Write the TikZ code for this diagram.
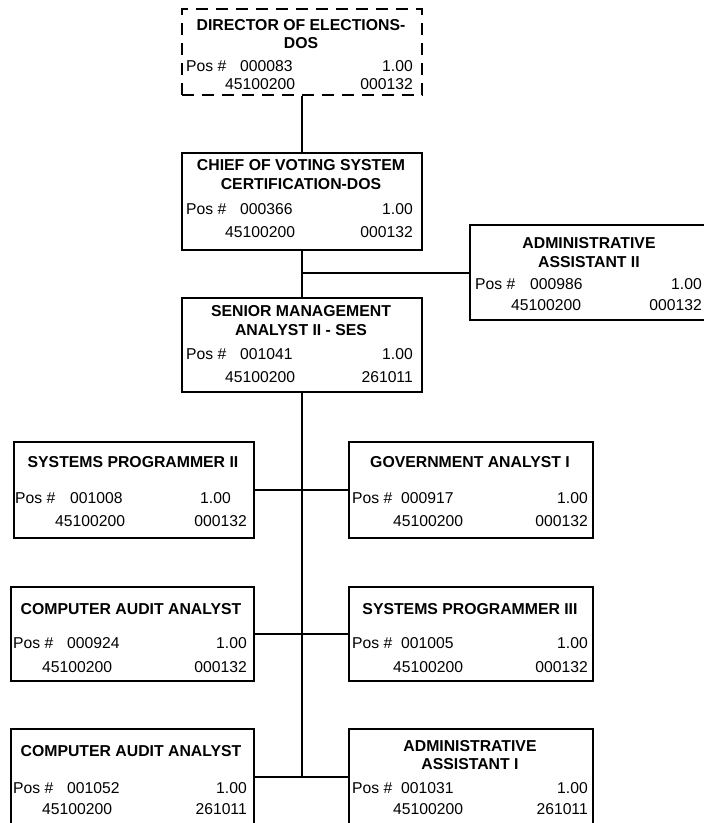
\documentclass[tikz,border=0pt]{standalone}
\usepackage{fontspec}
\setmainfont{Liberation Sans}
\begin{document}
\begin{tikzpicture}[x=1pt,y=-1pt]
\tikzset{
  box/.style={draw, line width=2pt, rectangle, anchor=north west, inner sep=0pt},
  dbox/.style={box, dash pattern=on 12pt off 8pt},
  ttl/.style={font=\bfseries\fontsize{15.8}{19}\selectfont, anchor=base, inner sep=0pt},
  lt/.style={font=\fontsize{15.7}{19}\selectfont, anchor=base west, inner sep=0pt},
  rt/.style={font=\fontsize{15.7}{19}\selectfont, anchor=base east, inner sep=0pt},
  link/.style={line width=2pt},
}
\useasboundingbox (0,0) rectangle (704,823);
\clip (0,0) rectangle (704,823);

% ---------- boxes ----------
\node[dbox, minimum width=240pt, minimum height=86pt] (dir)    at (181,8)   {};
\node[box,  minimum width=240pt, minimum height=97pt] (chief)  at (181,152) {};
\node[box,  minimum width=240pt, minimum height=95pt] (admtwo) at (469,224) {};
\node[box,  minimum width=240pt, minimum height=94pt] (senior) at (181,297) {};
\node[box,  minimum width=240pt, minimum height=96pt] (rAl)    at (13,441)  {};
\node[box,  minimum width=244pt, minimum height=96pt] (rAr)    at (348,441) {};
\node[box,  minimum width=243pt, minimum height=94pt] (rBl)    at (10,586)  {};
\node[box,  minimum width=244pt, minimum height=94pt] (rBr)    at (348,586) {};
\node[box,  minimum width=243pt, minimum height=95pt] (rCl)    at (10,728)  {};
\node[box,  minimum width=244pt, minimum height=95pt] (rCr)    at (348,728) {};

% ---------- connectors ----------
\draw[link] (dir.south) -- (chief.north);
\draw[link] (chief.south) -- (senior.north);
\coordinate (jadm) at (chief.south |- admtwo.west);
\draw[link] (jadm) -- (admtwo.west);
\coordinate (jend) at (senior.south |- rCl.east);
\draw[link] (senior.south) -- (jend);
\draw[link] (rAl.east) -- (rAr.west);
\draw[link] (rBl.east) -- (rBr.west);
\draw[link] (rCl.east) -- (rCr.west);

% ---------- Director of Elections ----------
\node[ttl] (dirA) at (301,30) {DIRECTOR OF ELECTIONS-};
\node[ttl] (dirB) at (301,48) {DOS};
\node[lt] (dirP) at (186,71) {Pos \#};
\node[lt] (dirN) at (240,71) {000083};
\node[rt] (dirF) at (413,71) {1.00};
\node[lt] (dirC) at (225,89) {45100200};
\node[rt] (dirK) at (413,89) {000132};

% ---------- Chief ----------
\node[ttl] (chA) at (301,170) {CHIEF OF VOTING SYSTEM};
\node[ttl] (chB) at (301,189) {CERTIFICATION-DOS};
\node[lt] (chP) at (186,214) {Pos \#};
\node[lt] (chN) at (240,214) {000366};
\node[rt] (chF) at (413,214) {1.00};
\node[lt] (chC) at (225,237) {45100200};
\node[rt] (chK) at (413,237) {000132};

% ---------- Administrative Assistant II ----------
\node[ttl] (adA) at (589,248) {ADMINISTRATIVE};
\node[ttl] (adB) at (589,267) {ASSISTANT II};
\node[lt] (adP) at (475,289) {Pos \#};
\node[lt] (adN) at (530,289) {000986};
\node[rt] (adF) at (702,289) {1.00};
\node[lt] (adC) at (511,310) {45100200};
\node[rt] (adK) at (702,310) {000132};

% ---------- Senior Management Analyst ----------
\node[ttl] (seA) at (301,316) {SENIOR MANAGEMENT};
\node[ttl] (seB) at (301,335) {ANALYST II - SES};
\node[lt] (seP) at (186,359) {Pos \#};
\node[lt] (seN) at (240,359) {001041};
\node[rt] (seF) at (413,359) {1.00};
\node[lt] (seC) at (225,382) {45100200};
\node[rt] (seK) at (413,382) {261011};

% ---------- Systems Programmer II ----------
\node[ttl] (alA) at (133,467) {SYSTEMS PROGRAMMER II};
\node[lt] (alP) at (15,503) {Pos \#};
\node[lt] (alN) at (70,503) {001008};
\node[rt] (alF) at (231,503) {1.00};
\node[lt] (alC) at (55,526) {45100200};
\node[rt] (alK) at (247,526) {000132};

% ---------- Government Analyst I ----------
\node[ttl] (arA) at (470,467) {GOVERNMENT ANALYST I};
\node[lt] (arP) at (352,503) {Pos \#};
\node[lt] (arN) at (401,503) {000917};
\node[rt] (arF) at (588,503) {1.00};
\node[lt] (arC) at (393,526) {45100200};
\node[rt] (arK) at (588,526) {000132};

% ---------- Computer Audit Analyst (1) ----------
\node[ttl] (blA) at (131,614) {COMPUTER AUDIT ANALYST};
\node[lt] (blP) at (13,648) {Pos \#};
\node[lt] (blN) at (67,648) {000924};
\node[rt] (blF) at (247,648) {1.00};
\node[lt] (blC) at (42,672) {45100200};
\node[rt] (blK) at (247,672) {000132};

% ---------- Systems Programmer III ----------
\node[ttl] (brA) at (470,614) {SYSTEMS PROGRAMMER III};
\node[lt] (brP) at (352,648) {Pos \#};
\node[lt] (brN) at (401,648) {001005};
\node[rt] (brF) at (588,648) {1.00};
\node[lt] (brC) at (393,672) {45100200};
\node[rt] (brK) at (588,672) {000132};

% ---------- Computer Audit Analyst (2) ----------
\node[ttl] (clA) at (131,756) {COMPUTER AUDIT ANALYST};
\node[lt] (clP) at (13,793) {Pos \#};
\node[lt] (clN) at (67,793) {001052};
\node[rt] (clF) at (247,793) {1.00};
\node[lt] (clC) at (42,814) {45100200};
\node[rt] (clK) at (247,814) {261011};

% ---------- Administrative Assistant I ----------
\node[ttl] (crA) at (470,751) {ADMINISTRATIVE};
\node[ttl] (crB) at (470,769) {ASSISTANT I};
\node[lt] (crP) at (352,793) {Pos \#};
\node[lt] (crN) at (401,793) {001031};
\node[rt] (crF) at (588,793) {1.00};
\node[lt] (crC) at (393,814) {45100200};
\node[rt] (crK) at (588,814) {261011};
\end{tikzpicture}
\end{document}
